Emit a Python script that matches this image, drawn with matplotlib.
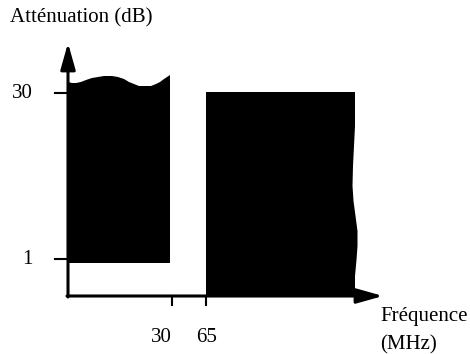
#!/usr/bin/env python3

import matplotlib
matplotlib.use("Agg")
import matplotlib.pyplot as plt

# schematic units: 1 unit ~ 1 px, origin at the axes corner
# low band (attenuation above 1 dB, up to 30 MHz): wavy top
low_freq = [0, 4, 8, 13, 18, 24, 30, 36, 44, 50, 56, 61, 66, 71, 77,
            83, 88, 92, 96, 99, 102]
low_top = [214, 213, 213, 214, 216, 218, 219, 220, 220, 219, 217, 214,
           212, 210, 210, 210, 212, 214, 217, 219, 221]
low_bottom = 33

# high band (from 65 MHz up): flat top, wavy cut on the right
high_start = 138
high_top = 204
high_edge_level = [204, 170, 150, 130, 110, 95, 80, 65, 50, 36, 20, 0]
high_edge_freq = [287, 287, 286, 285, 284.5, 285.5, 287.5, 289.5, 289.5,
                  288.5, 287, 287]

y_tick_pos = [203, 37]
y_tick_labels = ["30", "1"]
x_tick_pos = [104, 138]
x_tick_labels = ["30", "65"]
x_label_pos = [93, 139]

FONT = "Liberation Serif"
SIZE = 15


def main():
    fig = plt.figure(figsize=(4.7, 3.54), dpi=100)
    ax = fig.add_axes([0, 0, 1, 1])
    ax.set_xlim(-68, 402)
    ax.set_ylim(-58, 296)
    ax.axis("off")

    # low band
    xs = low_freq + [low_freq[-1], low_freq[0]]
    ys = low_top + [low_bottom, low_bottom]
    ax.fill(xs, ys, color="black", lw=0)

    # high band
    xs = [high_start] + high_edge_freq + [high_start]
    ys = [high_top] + high_edge_level + [0]
    ax.fill(xs, ys, color="black", lw=0)

    # axes with arrows
    style = "-|>,head_length=1.6,head_width=0.45"
    ax.annotate("", xy=(0, 253), xytext=(0, -1),
                arrowprops=dict(arrowstyle=style, mutation_scale=10,
                                lw=2.2, color="black", shrinkA=0, shrinkB=0))
    ax.annotate("", xy=(315, 0), xytext=(-1, 0),
                arrowprops=dict(arrowstyle=style, mutation_scale=10,
                                lw=2.2, color="black", shrinkA=0, shrinkB=0))

    for pos, lab in zip(y_tick_pos, y_tick_labels):
        ax.plot([-13, 0], [pos, pos], color="black", lw=1.5)
        ax.text(-35, pos, lab, ha="right", va="center",
                fontsize=SIZE, family=FONT)

    for pos, lpos, lab in zip(x_tick_pos, x_label_pos, x_tick_labels):
        ax.plot([pos, pos], [0, -9], color="black", lw=1.5)
        ax.text(lpos, -42, lab, ha="center", va="center",
                fontsize=SIZE, family=FONT)

    ax.text(-58, 278, "Atténuation (dB)", ha="left", va="center",
            fontsize=SIZE, family=FONT)
    ax.text(312, -20, "Fréquence", ha="left", va="center",
            fontsize=SIZE, family=FONT)
    ax.text(312, -49, "(MHz)", ha="left", va="center",
            fontsize=SIZE, family=FONT)

    fig.savefig("out.png", dpi=100)


if __name__ == "__main__":
    main()
